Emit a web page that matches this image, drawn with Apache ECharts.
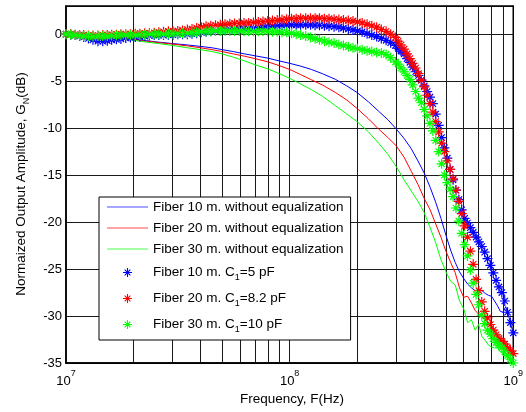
<!DOCTYPE html>
<html><head><meta charset="utf-8">
<script src="https://cdn.jsdelivr.net/npm/echarts@6/dist/echarts.min.js"></script>
<style>html,body{margin:0;padding:0;background:#fff}#c{width:526px;height:412px}</style>
</head><body><div id="c"></div>
<script>
// Frequencies in MHz (axis labels shown as powers of ten in Hz)
const eqFreqMHz = [10,10.5,11,11.5,12,12.6,13.2,13.9,14.6,15.3,16,16.8,17.6,18.5,19.4,20.4,21.4,22.5,23.6,24.8,
26,27.3,28.7,30.1,31.6,33.2,34.9,36.6,38.4,40.3,42.3,44.4,46.6,49,51.4,54,56.7,59.5,62.5,65.6,
68.9,72.4,76,79.8,83.8,88,92.4,97,102,107,112,118,124,130,136,143,150,158,166,174,
183,192,201,211,222,233,245,257,270,283,297,
306,315,325,335,345,355,366,377,388,400,412,424,437,450,464,478,492,507,522,538,
554,571,588,606,624,643,662,682,702,723,745,767,790,814,838,863,889,916,943,971,1000];

const eq10 = [0.0,-0.05,-0.1,-0.2,-0.3,-0.45,-0.6,-0.75,-0.75,-0.7,
-0.6,-0.55,-0.5,-0.4,-0.35,-0.3,-0.25,-0.2,-0.15,-0.1,
-0.1,-0.1,-0.05,-0.05,0.0,0.0,0.0,0.05,0.1,0.2,
0.25,0.3,0.35,0.4,0.45,0.5,0.5,0.55,0.6,0.6,
0.65,0.7,0.75,0.8,0.85,0.9,0.95,1.0,1.0,1.0,
1.0,1.0,1.0,0.95,0.95,0.9,0.85,0.8,0.75,0.65,
0.55,0.45,0.35,0.25,0.05,-0.1,-0.25,-0.45,-0.65,-0.9,
-1.2,
-1.5,-1.8,-2.1,-2.6,-3.0,-3.5,-4.0,-4.4,-4.9,-5.5,
-6.1,-6.7,-7.4,-8.5,-9.7,-11.0,-12.1,-13.2,-14.4,-15.5,
-16.6,-17.6,-18.7,-19.6,-20.1,-20.6,-21.1,-21.6,-22.1,-22.6,
-23.2,-23.9,-24.6,-25.4,-26.2,-26.9,-27.5,-28.4,-29.6,-30.7,
-31.8];

const eq20 = [0.0,0.0,-0.05,-0.1,-0.1,-0.15,-0.15,-0.15,-0.1,-0.1,
-0.05,-0.05,0.0,0.0,0.0,0.05,0.05,0.1,0.1,0.15,
0.2,0.25,0.3,0.3,0.35,0.4,0.5,0.55,0.65,0.75,
0.85,0.9,0.95,1.0,1.05,1.1,1.15,1.15,1.2,1.2,
1.25,1.3,1.35,1.4,1.45,1.5,1.55,1.6,1.65,1.65,
1.7,1.7,1.7,1.7,1.7,1.65,1.65,1.6,1.55,1.5,
1.45,1.4,1.3,1.2,1.05,0.9,0.75,0.5,0.3,0.0,
-0.35,
-0.75,-1.15,-1.6,-2.1,-2.6,-3.1,-3.6,-4.2,-4.9,-5.6,
-6.5,-7.4,-8.3,-9.3,-10.4,-11.6,-12.5,-13.5,-14.4,-15.4,
-16.6,-17.8,-19.1,-20.4,-21.6,-23.1,-24.5,-26.1,-27.3,-28.5,
-29.5,-30.2,-30.9,-31.5,-32.0,-32.4,-32.7,-33.0,-33.4,-33.7,
-34.0];

const eq30 = [0.0,-0.05,-0.1,-0.15,-0.2,-0.2,-0.25,-0.2,-0.2,-0.2,
-0.15,-0.15,-0.1,-0.1,-0.1,-0.1,-0.05,-0.05,0.0,0.0,
0.0,0.0,0.05,0.05,0.05,0.1,0.1,0.15,0.2,0.25,
0.3,0.3,0.35,0.35,0.35,0.35,0.35,0.35,0.3,0.3,
0.3,0.3,0.3,0.3,0.25,0.25,0.2,0.2,0.1,0.0,
-0.1,-0.2,-0.35,-0.45,-0.6,-0.75,-0.85,-0.95,-1.1,-1.2,
-1.35,-1.45,-1.55,-1.65,-1.75,-1.85,-1.95,-2.0,-2.15,-2.5,
-2.95,
-3.2,-3.6,-4.0,-4.4,-4.8,-5.4,-6.1,-6.8,-7.3,-8.0,
-8.7,-9.5,-10.3,-11.3,-12.5,-13.8,-15.0,-15.8,-16.5,-17.3,
-18.5,-19.9,-21.2,-22.4,-23.6,-25.1,-26.5,-27.7,-28.8,-29.9,
-30.8,-31.5,-31.9,-32.4,-32.8,-33.1,-33.4,-33.8,-34.2,-34.6,
-35.0];

const lineFreqMHz = [10,12,14,16,18,20,23,26,30,35,
40,45,50,56,63,70,80,90,100,112,
125,140,160,180,200,225,250,275,300,325,
350,375,400,425,450,475,500,525,550,575,
600,625,650,675,700,725,750,775,800,825,
850,875,900,925,950,975,1000];

const raw10 = [0.0,-0.15,-0.3,-0.4,-0.45,-0.5,-0.7,-0.85,-1.0,-1.15,
-1.3,-1.45,-1.65,-1.85,-2.1,-2.3,-2.55,-2.85,-3.1,-3.4,
-3.75,-4.2,-4.8,-5.5,-6.2,-7.2,-8.2,-9.1,-10.1,-11.1,
-12.2,-13.5,-14.8,-16.3,-17.9,-19.6,-21.4,-23.0,-24.3,-25.3,
-26.0,-26.6,-27.0,-27.3,-27.2,-27.3,-27.6,-27.8,-27.9,-28.4,
-28.9,-29.5,-29.6,-29.0,-29.8,-30.9,-31.8];

const raw20 = [0.0,-0.2,-0.35,-0.45,-0.5,-0.55,-0.75,-0.9,-1.05,-1.25,
-1.45,-1.65,-1.85,-2.1,-2.35,-2.6,-2.95,-3.35,-3.75,-4.3,
-4.85,-5.4,-6.2,-7.0,-7.9,-9.0,-10.1,-11.0,-11.9,-13.1,
-14.6,-16.0,-17.5,-18.7,-20.2,-21.6,-23.1,-24.3,-25.4,-27.0,
-28.0,-27.9,-28.6,-29.4,-29.8,-30.1,-30.4,-30.7,-31.1,-31.6,
-32.1,-32.4,-32.8,-33.2,-33.4,-33.6,-34.0];

const raw30 = [0.0,-0.25,-0.4,-0.5,-0.55,-0.65,-0.85,-1.0,-1.2,-1.45,
-1.65,-1.85,-2.1,-2.45,-2.85,-3.25,-3.7,-4.2,-4.7,-5.3,
-5.9,-6.6,-7.6,-8.5,-9.3,-10.4,-11.6,-12.8,-14.1,-15.5,
-16.7,-17.8,-19.0,-20.6,-22.2,-24.0,-25.3,-26.3,-26.7,-28.4,
-29.2,-30.7,-30.4,-31.5,-30.9,-32.2,-32.6,-33.1,-33.3,-33.4,
-33.3,-33.8,-34.0,-34.3,-34.5,-34.8,-35.0];

// log grid positions (MHz)
const gridFreqMHz = [20,30,40,50,60,70,80,90,100,200,300,400,500,600,700,800,900];

const seriesNames = [
  'Fiber 10 m. without equalization',
  'Fiber 20 m. without equalization',
  'Fiber 30 m. without equalization',
  'Fiber 10 m. C1=5 pF',
  'Fiber 20 m. C1=8.2 pF',
  'Fiber 30 m. C1=10 pF'
];
const colors = ['#0000ff','#ff0000','#00ff00'];

const FONT = '"Liberation Sans", Arial, Helvetica, sans-serif';
const STAR = 'path://M0 44L100 44L100 56L0 56Z M44 0L56 0L56 100L44 100Z M14 22.5L22.5 14L86 77.5L77.5 86Z M77.5 14L86 22.5L22.5 86L14 77.5Z';
const LINE_ICON = 'path://M0 0L100 0L100 3L0 3Z';

function pairs(fs, vs) { return fs.map((f, i) => [f, vs[i]]); }

const chart = echarts.init(document.getElementById('c'), null, {renderer: 'canvas'});

const lineSeries = [raw10, raw20, raw30].map((vals, i) => ({
  name: seriesNames[i], type: 'line', data: pairs(lineFreqMHz, vals),
  showSymbol: false, symbol: 'none', clip: true,
  lineStyle: {color: colors[i], width: 1}, itemStyle: {color: colors[i]},
  z: 2
}));
const starSeries = [eq10, eq20, eq30].map((vals, i) => ({
  name: seriesNames[3 + i], type: 'scatter', data: pairs(eqFreqMHz, vals),
  symbol: STAR, symbolSize: 10, clip: true,
  itemStyle: {color: colors[i], opacity: 1},
  z: 3
}));

const legendData = seriesNames.map((n, i) => i < 3
  ? {name: n, icon: LINE_ICON, itemStyle: {color: colors[i], opacity: 0.7}}
  : {name: n});

const option = {
  animation: false,
  backgroundColor: '#fff',
  grid: {left: 66, right: 6, top: 6, bottom: 49, show: true, borderColor: '#000', borderWidth: 1.5, backgroundColor: 'transparent', z: 3},
  xAxis: {
    type: 'log', logBase: 10, min: 10, max: 1000,
    axisLine: {show: true, onZero: false, lineStyle: {color: '#000', width: 1.5}},
    axisTick: {show: false}, splitLine: {show: false}, minorTick: {show: false},
    axisLabel: {
      margin: 6, color: '#000',
      formatter: v => '{b|10}{e|' + Math.round(Math.log10(v) + 6) + '}',
      rich: {
        b: {fontSize: 13, fontFamily: FONT, color: '#000'},
        e: {fontSize: 9, fontFamily: FONT, color: '#000', padding: [0, 0, 16, 0]}
      }
    }
  },
  yAxis: {
    type: 'value', min: -35, max: 3, interval: 5,
    axisLine: {show: true, lineStyle: {color: '#000', width: 1.5}},
    axisTick: {show: false},
    splitLine: {show: true, lineStyle: {color: '#1a1a1a', width: 1}},
    axisLabel: {
      margin: 4, fontSize: 13, fontFamily: FONT, color: '#000',
      formatter: v => (v % 5 === 0 ? String(v) : '')
    }
  },
  legend: {
    orient: 'vertical', left: 99, top: 197,
    itemWidth: 41, itemHeight: 9, itemGap: 7,
    padding: [3, 7, 6, 8],
    backgroundColor: '#fff', borderColor: '#000', borderWidth: 1, borderRadius: 0,
    data: legendData,
    formatter: name => name.replace('C1=', 'C{sub|1}='),
    textStyle: {
      fontSize: 13.5, fontFamily: FONT, color: '#000', lineHeight: 14,
      rich: {sub: {fontSize: 9, fontFamily: FONT, color: '#000', lineHeight: 19, padding: [10, 0, 0, 0]}}
    }
  },
  graphic: [
    {type: 'text', x: 292, y: 399, z: 10, style: {text: 'Frequency, F(Hz)', font: '13.5px ' + FONT, fill: '#000', align: 'center', verticalAlign: 'middle'}},
    {type: 'text', x: 21, y: 184, rotation: Math.PI / 2, z: 10, style: {
      text: 'Normaized Output Amplitude, G{sub|N}(dB)', font: '13.5px ' + FONT, fill: '#000',
      align: 'center', verticalAlign: 'middle',
      rich: {sub: {fontSize: 9, fontFamily: FONT, fill: '#000', padding: [12, 0, 0, 0]}}
    }}
  ],
  series: [
    {
      name: 'grid', type: 'line', data: [], silent: true, z: 1,
      markLine: {
        silent: true, symbol: 'none', z: 1, animation: false,
        label: {show: false},
        lineStyle: {color: '#1a1a1a', width: 1, type: 'solid'},
        emphasis: {disabled: true},
        data: gridFreqMHz.map(f => ({xAxis: f}))
      }
    }
  ].concat(lineSeries, starSeries)
};
chart.setOption(option);
</script>
</body></html>
